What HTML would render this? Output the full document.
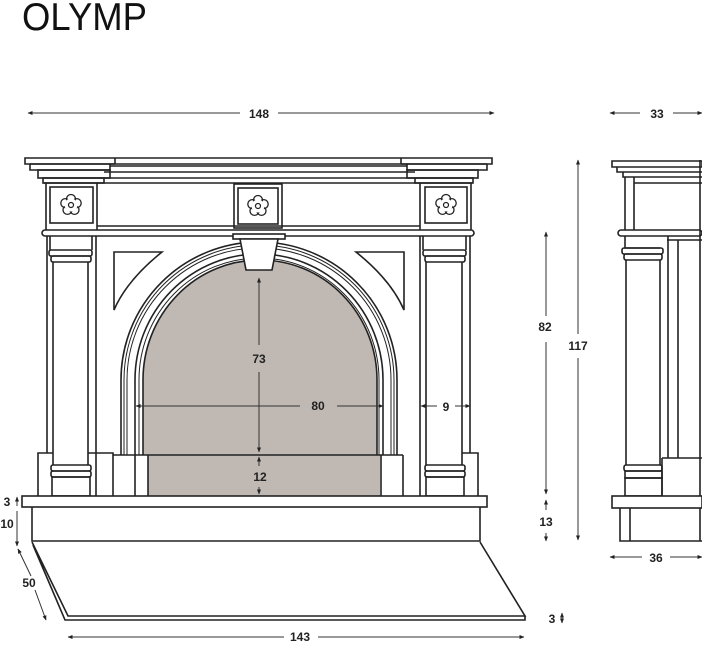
<!DOCTYPE html>
<html><head><meta charset="utf-8"><style>html,body{margin:0;padding:0;background:#fff}svg{display:block}</style></head><body>
<svg width="702" height="650" viewBox="0 0 702 650" xmlns="http://www.w3.org/2000/svg" font-family="Liberation Sans, sans-serif">
<defs>
<marker id="a" viewBox="0 0 10 10" refX="9" refY="5" markerWidth="5" markerHeight="5" orient="auto-start-reverse"><path d="M0,1 L10,5 L0,9 z" fill="#222"/></marker>
<g id="ros"><g fill="none" stroke="#222" stroke-width="1.3"><circle cx="0" cy="-6" r="4.5"/><circle cx="5.7" cy="-1.9" r="4.5"/><circle cx="3.5" cy="4.9" r="4.5"/><circle cx="-3.5" cy="4.9" r="4.5"/><circle cx="-5.7" cy="-1.9" r="4.5"/></g><circle cx="0" cy="0" r="6.5" fill="#fff"/><circle cx="0" cy="0" r="2.5" fill="none" stroke="#222" stroke-width="1.2"/></g>
</defs>
<text x="22" y="30" font-size="39" textLength="125" lengthAdjust="spacingAndGlyphs" fill="#111">OLYMP</text>

<g fill="none" stroke="#222" stroke-width="1.6">
<!-- gray fill -->
<path d="M143,455 V380 A117,120 0 0 1 377,380 V455 Z" fill="#bfb8b3" stroke="none"/>
<rect x="148" y="455" width="232" height="41" fill="#bfb8b3" stroke="none"/>
<!-- cornice -->
<path d="M25,158 H492 V164 H25 Z" fill="#fff"/>
<path d="M30,164 H115 M401,164 H487 M30,164 V170 H110 V164 M407,164 V170 H487 V164" />
<path d="M115,158 V164 M401,158 V164"/>
<rect x="38" y="170" width="72" height="8"/><rect x="407" y="170" width="71" height="8"/>
<rect x="43" y="178" width="61" height="5"/><rect x="415" y="178" width="58" height="5"/>
<path d="M110,166 H407 M104,172 H415 M104,178 H415"/>
<!-- frieze -->
<path d="M44,183 H472 M46,183 V230 M471,183 V230 M97,183 V230 M420,183 V230"/>
<rect x="50" y="187" width="43" height="36"/><rect x="425" y="187" width="42" height="36"/>
<rect x="234" y="184" width="48" height="44"/><rect x="238" y="188" width="40" height="36"/>
<path d="M97,226 H420"/>
<rect x="42" y="230" width="432" height="6" rx="3"/>
<!-- pillars -->
<path d="M47,236 V453 M96,236 V496 M53,262 V465 M88,262 V465"/>
<path d="M420,236 V496 M470,236 V453 M426,262 V465 M462,262 V465"/>
<path d="M50,236 V250 M92,236 V250 M423,236 V250 M466,236 V250"/>
<rect x="49" y="250" width="43" height="6" rx="2"/><rect x="51" y="256" width="40" height="6" rx="2"/>
<rect x="423" y="250" width="43" height="6" rx="2"/><rect x="425" y="256" width="40" height="6" rx="2"/>
<rect x="51" y="465" width="40" height="6" rx="2"/><rect x="51" y="471" width="40" height="6" rx="2"/><rect x="52" y="477" width="38" height="19"/>
<rect x="425" y="465" width="40" height="6" rx="2"/><rect x="425" y="471" width="40" height="6" rx="2"/><rect x="426" y="477" width="38" height="19"/>
<path d="M38,496 V453 H53 M88,453 H113 V496 M135,455 V496 M148,455 V496 M113,455 H403 M381,455 V496 M403,455 V496 M462,453 H478 V496"/>
<!-- spandrels -->
<path d="M114,252 H162 Q127,280 114,310 Z"/>
<path d="M404,252 H356 Q391,280 404,310 Z"/>
<!-- arch mouldings -->
<path d="M121,455 V380 A138,138 0 0 1 397,380 V455"/>
<path d="M124,455 V380 A135,135 0 0 1 394,380 V455" stroke-width="1"/>
<path d="M127,455 V380 A132,132 0 0 1 391,380 V455" stroke-width="1"/>
<path d="M135,455 V380 A124,126 0 0 1 383,380 V455"/>
<path d="M139,455 V380 A120,122 0 0 1 379,380 V455" stroke-width="1"/>
<path d="M143,455 V380 A117,120 0 0 1 377,380 V455"/>
<!-- keystone -->
<rect x="233" y="234" width="52" height="5" fill="#fff"/>
<path d="M240,239 H278 L272,270 H246 Z" fill="#fff"/>
<!-- base -->
<rect x="22" y="496" width="465" height="11" fill="#fff"/>
<path d="M32,507 V541 H480 V507"/>
<path d="M32,542 L68,616 H525 L480,542 M33,545 L65,620 H525 V616"/>
<!-- side view -->
<path d="M612,161 H702 V167 H612 Z" fill="#fff"/>
<path d="M617,167 V172 H702 M623,172 V177 H702 M625,177 V230 M634,177 V230 M634,183 H702"/>
<rect x="618" y="230" width="84" height="6" rx="3"/>
<path d="M625,236 V248 H660 M668,236 V458 M678,240 V458 M667,240 H702 M700,160 V541"/>
<rect x="622" y="248" width="41" height="6" rx="2"/><rect x="624" y="254" width="38" height="6" rx="2"/>
<path d="M626,260 V465 M660,260 V465"/>
<rect x="624" y="465" width="38" height="6" rx="2"/><rect x="625" y="471" width="37" height="7"/><rect x="625" y="478" width="37" height="18"/>
<path d="M662,458 H702 M662,458 V496"/>
<rect x="612" y="496" width="90" height="12" fill="#fff"/>
<path d="M620,508 V541 H702 M630,508 V541"/>
</g>
<use href="#ros" x="71" y="205"/><use href="#ros" x="258" y="206"/><use href="#ros" x="446" y="205"/>

<!-- dimensions -->
<g stroke="#333" stroke-width="1" fill="none">
<path d="M28,113 H240 M278,113 H494" marker-start="url(#a)" marker-end="url(#a)"/>
<path d="M610,113 H640 M673,113 H702" marker-start="url(#a)" marker-end="url(#a)"/>
<path d="M259,278 V345 M259,372 V452" marker-start="url(#a)" marker-end="url(#a)"/>
<path d="M259,457 V466 M259,487 V494" marker-start="url(#a)" marker-end="url(#a)"/>
<path d="M136,406 H300 M337,406 H383" marker-start="url(#a)" marker-end="url(#a)"/>
<path d="M421,406 H437 M455,406 H470" marker-start="url(#a)" marker-end="url(#a)"/>
<path d="M546,232 V316 M546,342 V494" marker-start="url(#a)" marker-end="url(#a)"/>
<path d="M546,500 V510 M546,533 V541" marker-start="url(#a)" marker-end="url(#a)"/>
<path d="M578,160 V334 M578,358 V540" marker-start="url(#a)" marker-end="url(#a)"/>
<path d="M68,637 H284 M318,637 H524" marker-start="url(#a)" marker-end="url(#a)"/>
<path d="M610,557 H642 M670,557 H702" marker-start="url(#a)" marker-end="url(#a)"/>
<path d="M17,497 V506 M17,511 V546" marker-start="url(#a)" marker-end="url(#a)"/>
<path d="M18,549 L31,576 M35,590 L46,620" marker-start="url(#a)" marker-end="url(#a)"/>
<path d="M562,613 V623" marker-start="url(#a)" marker-end="url(#a)"/>
</g>
<g font-size="12" font-weight="bold" fill="#222" text-anchor="middle">
<text x="259" y="118">148</text>
<text x="657" y="118">33</text>
<text x="259" y="363">73</text>
<text x="318" y="410">80</text>
<text x="446" y="411">9</text>
<text x="260" y="481">12</text>
<text x="545" y="331">82</text>
<text x="578" y="350">117</text>
<text x="546" y="526">13</text>
<text x="300" y="641">143</text>
<text x="656" y="562">36</text>
<text x="7" y="506">3</text>
<text x="7" y="528">10</text>
<text x="29" y="587">50</text>
<text x="552" y="623">3</text>
</g>
</svg>
</body></html>
